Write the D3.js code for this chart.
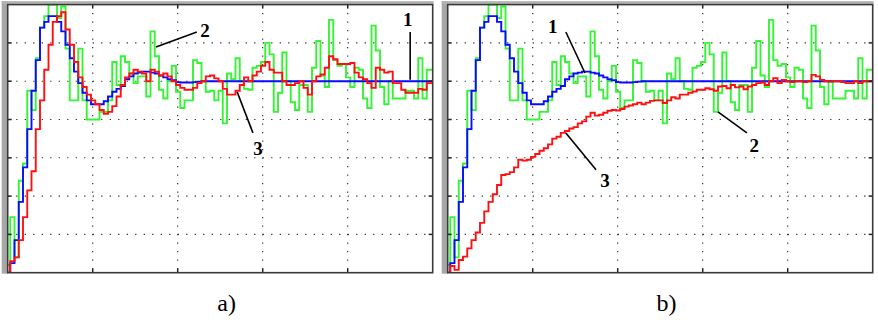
<!DOCTYPE html>
<html>
<head>
<meta charset="utf-8">
<script src="https://cdn.jsdelivr.net/npm/d3@7"></script>
<style>
  body { margin: 0; background: #fff; }
  svg { display: block; }
  .grid line { stroke: #222; stroke-width: 1.1; stroke-dasharray: 1.2 7.3; }
  .tick-mark { stroke: #222; stroke-width: 1.5; }
  .trace { fill: none; stroke-width: 1.9; stroke-linejoin: miter; }
  .num { font-family: "Liberation Serif", "DejaVu Serif", serif; font-weight: bold; font-size: 19px; }
  .cap { font-family: "Liberation Serif", "DejaVu Serif", serif; font-size: 24px; }
</style>
</head>
<body>
<svg id="chart" width="878" height="320"></svg>
<script>
// sample values (one per step, 100 steps per panel)
var reference = [0, 0.05, 0.17, 0.37, 0.55, 0.75, 0.95, 1.11, 1.28, 1.31,
  1.34, 1.34, 1.31, 1.26, 1.19, 1.12, 1.05, 0.99, 0.94, 0.90,
  0.88, 0.88, 0.88, 0.895, 0.92, 0.945, 0.96, 0.975, 1.01, 1.025,
  1.04, 1.045, 1.05, 1.05, 1.045, 1.04, 1.03, 1.02, 1.01, 1.005,
  0.995, 0.993, 0.993, 0.993, 0.995, 0.998, 1, 1, 1, 1,
  1, 1, 1, 1, 1, 1, 1, 1, 1, 1,
  1, 1, 1, 1, 1, 1, 1, 1, 1, 1,
  1, 1, 1, 1, 1, 1, 1, 1, 1, 1,
  1, 1, 1, 1, 1, 1, 1, 1, 1, 1,
  1, 1, 1, 1, 1, 1, 1, 1, 1, 1];

var measured = [0.04, 0.29, 0.08, 0.48, 0.57, 0.95, 0.85, 1.12, 1.28, 1.34,
  1.40, 1.40, 1.33, 1.39, 1.17, 0.90, 0.90, 1.17, 0.90, 0.80,
  0.80, 0.80, 0.84, 0.84, 0.90, 1.10, 0.98, 1.13, 1.10, 1.04,
  0.99, 1.025, 1.025, 0.92, 1.26, 1.13, 0.955, 0.91, 1.0, 1.08,
  0.945, 0.86, 0.90, 0.90, 1.11, 1.095, 1.0, 0.945, 0.95, 0.90,
  0.95, 0.78, 1.04, 1.01, 1.12, 1.0, 0.96, 0.955, 1.07, 1.08,
  1.10, 1.20, 1.14, 0.84, 0.94, 1.15, 1.0, 0.89, 0.85, 0.98,
  0.98, 0.84, 1.07, 1.21, 1.03, 0.97, 1.32, 1.11, 1.08, 1.09,
  1.02, 0.97, 1.07, 1.06, 0.91, 0.86, 1.29, 1.16, 0.97, 0.88,
  1.0, 0.91, 0.91, 0.91, 0.95, 0.95, 0.91, 1.12, 0.91, 1.06];

var filteredA = [0, 0.06, 0.08, 0.17, 0.29, 0.43, 0.53, 0.75, 0.90, 1.06,
  1.19, 1.31, 1.34, 1.36, 1.27, 1.19, 1.10, 1.02, 0.97, 0.93,
  0.90, 0.88, 0.85, 0.83, 0.84, 0.87, 0.92, 0.98, 1.02, 1.04,
  1.06, 1.05, 1.04, 1.0, 1.06, 1.05, 1.03, 1.04, 1.025, 1.0,
  0.98, 0.965, 0.955, 0.955, 0.965, 0.99, 1.0, 1.025, 1.03, 1.015,
  1.0, 0.96, 0.93, 0.93, 0.95, 0.98, 1.02, 1.0, 1.03, 1.05,
  1.08, 1.10, 1.06, 1.045, 1.045, 1.0, 0.98, 0.98, 0.99, 1.0,
  0.965, 0.93, 1.0, 1.025, 1.035, 1.07, 1.13, 1.115, 1.09, 1.09,
  1.09, 1.095, 1.045, 1.02, 1.01, 0.99, 0.965, 1.07, 1.06, 1.045,
  1.05, 0.99, 0.99, 0.955, 0.94, 0.94, 0.94, 0.96, 0.955, 0.99];

var filteredB = [0, 0.035, 0.015, 0.066, 0.084, 0.127, 0.17, 0.21, 0.26, 0.32,
  0.37, 0.41, 0.458, 0.51, 0.515, 0.525, 0.55, 0.59, 0.585, 0.59,
  0.605, 0.62, 0.637, 0.65, 0.67, 0.70, 0.71, 0.73, 0.74, 0.753,
  0.76, 0.78, 0.79, 0.815, 0.835, 0.82, 0.825, 0.835, 0.846, 0.85,
  0.847, 0.855, 0.867, 0.873, 0.88, 0.888, 0.88, 0.888, 0.897, 0.90,
  0.90, 0.886, 0.90, 0.916, 0.91, 0.93, 0.93, 0.94, 0.946, 0.955,
  0.955, 0.963, 0.958, 0.95, 0.972, 0.975, 0.963, 0.98, 0.968, 0.972,
  0.958, 0.972, 0.98, 0.99, 0.993, 0.98, 1.0, 1.016, 0.99, 1.007,
  1.0, 0.995, 1.0, 1.0, 0.995, 1.0, 1.033, 1.025, 1.007, 1.0,
  0.998, 1.0, 1.0, 0.995, 0.99, 0.99, 1.0, 0.99, 1.0, 1.0];

var xTicks = [0, 20, 40, 60, 80, 100];
var yTicks = [0, 0.2, 0.4, 0.6, 0.8, 1.0, 1.2, 1.4];
var sampleShift = -0.4;   // steps start slightly before the sample index

// labels with leader lines, in data units
var notesA = [
  { text: "2", tx: 46.4, ty: 1.231, x1: 34.9, y1: 1.179, x2: 44.5, y2: 1.257 },
  { text: "1", tx: 94.1, ty: 1.289, x1: 94.7, y1: 1.257, x2: 94.7, y2: 1.007 },
  { text: "3", tx: 58.9, ty: 0.615, x1: 54.0, y1: 0.944, x2: 57.7, y2: 0.730 }
];
var notesB = [
  { text: "1", tx: 24.7, ty: 1.252, x1: 27.8, y1: 1.257, x2: 32.3, y2: 1.043 },
  { text: "2", tx: 72.1, ty: 0.631, x1: 63.6, y1: 0.840, x2: 70.4, y2: 0.730 },
  { text: "3", tx: 37.0, ty: 0.448, x1: 27.8, y1: 0.730, x2: 34.9, y2: 0.537 }
];

var panels = [
  { id: "a", left: 7.7, caption: "a)", capX: 51.5, series: [measured, reference, filteredA], notes: notesA },
  { id: "b", left: 447.7, caption: "b)", capX: 51.5, series: [measured, reference, filteredB], notes: notesB }
];
var colors = ["#33f533", "#0a0aff", "#ff1010"];

var svg = d3.select("#chart");
var plotTop = 4.6, plotBottom = 272.7, plotW = 425;

panels.forEach(function (p) {
  var x = d3.scaleLinear().domain([0, 100]).range([p.left, p.left + plotW]);
  var y = d3.scaleLinear().domain([0, 1.4]).range([plotBottom, plotTop]);
  var g = svg.append("g");

  // light bevel left/top
  g.append("rect").attr("x", p.left - 6).attr("y", plotTop - 3.5)
    .attr("width", 6).attr("height", plotBottom - plotTop + 4.5).attr("fill", "#a8a8a8");
  g.append("rect").attr("x", p.left - 6).attr("y", plotTop - 3.5)
    .attr("width", plotW + 7).attr("height", 3).attr("fill", "#b4b4b4");
  g.append("rect").attr("x", p.left).attr("y", plotTop)
    .attr("width", plotW).attr("height", plotBottom - plotTop).attr("fill", "#fff");

  // dotted grid
  var grid = g.append("g").attr("class", "grid");
  grid.selectAll(".v").data(xTicks.slice(1, -1)).enter().append("line")
    .attr("x1", function (d) { return x(d); }).attr("x2", function (d) { return x(d); })
    .attr("y1", y(1.4)).attr("y2", y(0));
  grid.selectAll(".h").data(yTicks.slice(1, -1)).enter().append("line")
    .attr("y1", function (d) { return y(d); }).attr("y2", function (d) { return y(d); })
    .attr("x1", x(0)).attr("x2", x(100));

  // traces
  var clipId = "clip-" + p.id;
  g.append("clipPath").attr("id", clipId).append("rect")
    .attr("x", p.left).attr("y", plotTop - 1).attr("width", plotW).attr("height", plotBottom - plotTop + 1);
  var line = d3.line()
    .x(function (d) { return x(d[0]); })
    .y(function (d) { return y(d[1]); })
    .curve(d3.curveStepAfter);
  p.series.forEach(function (s, k) {
    var pts = s.map(function (v, i) { return [Math.max(0, i + sampleShift), v]; });
    pts.push([100, s[s.length - 1]]);
    g.append("path").attr("class", "trace").attr("clip-path", "url(#" + clipId + ")")
      .attr("stroke", colors[k]).attr("d", line(pts));
  });

  // inward tick marks on all sides
  var tk = g.append("g");
  xTicks.slice(1, -1).forEach(function (d) {
    tk.append("line").attr("class", "tick-mark").attr("x1", x(d)).attr("x2", x(d)).attr("y1", y(0)).attr("y2", y(0) - 4);
    tk.append("line").attr("class", "tick-mark").attr("x1", x(d)).attr("x2", x(d)).attr("y1", y(1.4)).attr("y2", y(1.4) + 4);
  });
  yTicks.slice(1, -1).forEach(function (d) {
    tk.append("line").attr("class", "tick-mark").attr("x1", x(0)).attr("x2", x(0) + 4).attr("y1", y(d)).attr("y2", y(d));
    tk.append("line").attr("class", "tick-mark").attr("x1", x(100)).attr("x2", x(100) - 4).attr("y1", y(d)).attr("y2", y(d));
  });

  // frame
  g.append("rect").attr("x", p.left).attr("y", plotTop)
    .attr("width", plotW).attr("height", plotBottom - plotTop)
    .attr("fill", "none").attr("stroke", "#3a3a3a").attr("stroke-width", 1.6);

  // annotations
  p.notes.forEach(function (n) {
    g.append("line").attr("x1", x(n.x1)).attr("y1", y(n.y1)).attr("x2", x(n.x2)).attr("y2", y(n.y2))
      .attr("stroke", "#000").attr("stroke-width", 1.6);
    g.append("text").attr("class", "num").attr("text-anchor", "middle")
      .attr("x", x(n.tx)).attr("y", y(n.ty)).text(n.text);
  });

  g.append("text").attr("class", "cap").attr("text-anchor", "middle")
    .attr("x", x(p.capX)).attr("y", 311).text(p.caption);
});
</script>
</body>
</html>
